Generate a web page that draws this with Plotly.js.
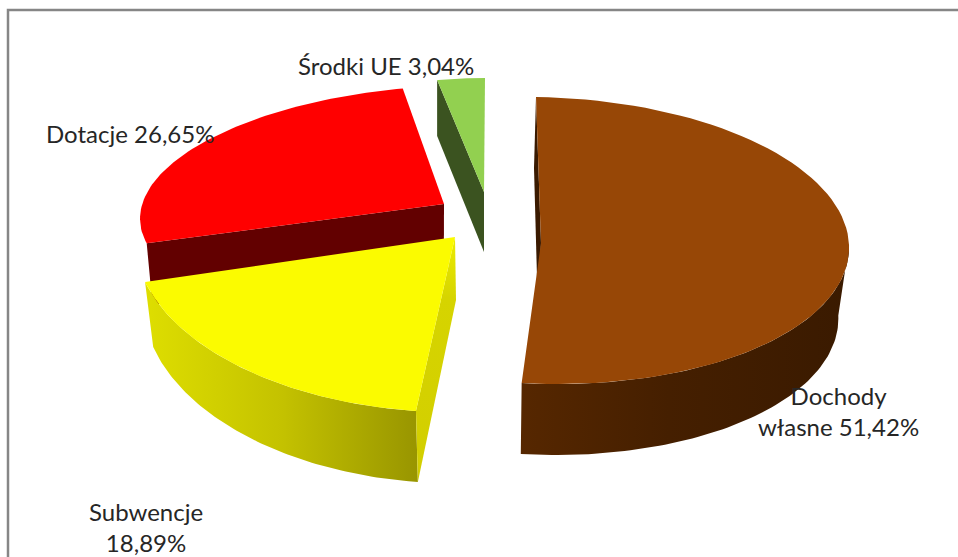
<!DOCTYPE html>
<html>
<head>
<meta charset="utf-8">
<script src="https://cdn.plot.ly/plotly-3.0.1.min.js"></script>
<style>html,body{margin:0;padding:0;background:#fff}#chart{width:958px;height:557px}</style>
</head>
<body>
<div id="chart"></div>
<script>
// Data
const categories = ["Dochody własne", "Subwencje", "Dotacje", "Środki UE"];
const shares = [51.42, 18.89, 26.65, 3.04];
const labelTexts = ["Dochody<br>własne 51,42%", "Subwencje<br>18,89%", "Dotacje 26,65%", "Środki UE 3,04%"];

// Projection of each exploded slice of the tilted pie (one entry per category)
const projection = [
  {ax:541, ay:243, cx:542.5, cy:240.5, rx:306.5, ry:143.5, m:-6.5, k:4, s:0.97, sy:1.0, d:71, dx:-1.5, wallFrom:90},
  {ax:455, ay:237, cx:455, cy:237, rx:320.7, ry:175.3, m:10.5, k:6.2, s:0.977, sy:1.046, d:63, dx:1, wallFrom:null},
  {ax:444, ay:204, cx:435, cy:204.5, rx:294, ry:119, m:24, k:-4.5, s:0.98, sy:1.04, d:60, dx:0, wallFrom:null},
  {ax:484, ay:192, cx:484, cy:192, rx:252, ry:114, m:1, k:0, s:1, sy:1.036, d:60, dx:0, wallFrom:null}
];
const topColors = ["#974706", "#fbfb00", "#ff0000", "#92d050"];
const cutColors = ["#3a1a00", null, "#620000", "#3b5320"];
const wallScales = [
  [[0,"#562700"],[0.45,"#451f00"],[1,"#3a1a00"]],
  [[0,"#dede00"],[0.5,"#c4c200"],[1,"#989500"]],
  null, null
];
const labelX = [838, 146, 130, 386];
const labelY = [411, 527, 133, 65];
const drawOrder = [3, 2, 1, 0];

const rad = d => d * Math.PI / 180;
const pt = (p, deg) => [
  p.cx + p.rx * Math.sin(rad(deg)) + p.m * Math.cos(rad(deg)),
  p.cy - p.ry * Math.cos(rad(deg)) + p.k * Math.sin(rad(deg))
];
const low = (p, q) => [
  p.cx + (q[0] - p.cx) * p.s + p.dx,
  p.cy + (q[1] - p.cy) * p.sy + p.d
];
function arc(p, a, b) {
  const out = [], n = 80;
  for (let i = 0; i <= n; i++) out.push(pt(p, a + (b - a) * i / n));
  return out;
}
function face(points, color, scale, kind) {
  const tr = {
    type: "scatter", mode: "lines", fill: "toself",
    x: points.map(q => q[0]), y: points.map(q => q[1]),
    line: {width: 0, color: "rgba(0,0,0,0)"},
    hoverinfo: "skip", showlegend: false
  };
  if (scale) tr.fillgradient = {type: kind || "horizontal", colorscale: scale};
  else tr.fillcolor = color;
  return tr;
}

// Angles from the values, clockwise from 12 o'clock
const total = shares.reduce((a, b) => a + b, 0);
const angles = [];
let acc = 0;
shares.forEach(v => { angles.push([acc / total * 360, (acc + v) / total * 360]); acc += v; });

const traces = [];
drawOrder.forEach(i => {
  const p = projection[i], [a0, a1] = angles[i];
  const apex = [p.ax, p.ay];
  const e0 = pt(p, a0);
  if (i === 0) {
    traces.push(face([e0, [e0[0]-2, e0[1]+p.d], [apex[0]-3, apex[1]+p.d], apex], cutColors[0]));
    const top = arc(p, p.wallFrom, a1);
    traces.push(face(top.concat(top.map(q => low(p, q)).reverse()), null, wallScales[0]));
  } else if (i === 1) {
    const top = arc(p, a0, a1);
    traces.push(face(top.concat(top.map(q => low(p, q)).reverse()), null, wallScales[1]));
    traces.push(face([apex, e0, low(p, e0), low(p, apex)], null, [[0,"#d2ce00"],[0.75,"#d6d400"],[1,"#ecec00"]], "vertical"));
  } else if (i === 2) {
    traces.push(face([apex, e0, low(p, e0), low(p, apex)], cutColors[2]));
  } else {
    traces.push(face([apex, e0, low(p, e0), low(p, apex)], cutColors[3]));
  }
  traces.push(face([apex].concat(arc(p, a0, a1)), topColors[i]));
});

const annotations = categories.map((c, i) => ({
  x: labelX[i], y: labelY[i], xref: "x", yref: "y",
  text: labelTexts[i], showarrow: false, xanchor: "center", yanchor: "middle", align: "center",
  font: {family: "Lato, 'Open Sans', sans-serif", size: 24, color: "#262626"}
}));

const layout = {
  width: 958, height: 557,
  margin: {l: 0, r: 0, t: 0, b: 0},
  paper_bgcolor: "#ffffff", plot_bgcolor: "#ffffff",
  xaxis: {range: [0, 958], visible: false, fixedrange: true},
  yaxis: {range: [557, 0], visible: false, fixedrange: true},
  showlegend: false,
  shapes: [{type: "rect", xref: "x", yref: "y", x0: 8, y0: 10, x1: 1000, y1: 620,
            line: {color: "#868686", width: 2.5}, fillcolor: "rgba(0,0,0,0)", layer: "below"}],
  annotations: annotations
};
Plotly.newPlot("chart", traces, layout, {displayModeBar: false, staticPlot: true});
</script>
</body>
</html>
